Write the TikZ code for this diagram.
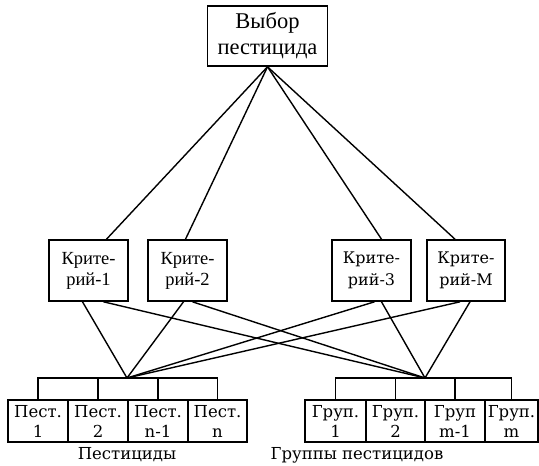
\documentclass[tikz,border=0pt]{standalone}
\usepackage{fontspec}
\setmainfont{Liberation Serif}
\newfontfamily\timesfont{Liberation Serif}
\newfontfamily\schfont{DejaVu Serif}
\usetikzlibrary{calc}

\begin{document}
\begin{tikzpicture}[x=1pt,y=-1pt]
\tikzstyle{box}=[draw, line width=1.6pt, rectangle, align=center, inner sep=0pt, minimum height=61pt]
\tikzstyle{item}=[draw, line width=1.4pt, rectangle, align=center, inner sep=0pt, minimum height=42pt, font=\schfont\fontsize{16.5}{20}\selectfont]
\tikzstyle{link}=[line width=1.4pt]
\useasboundingbox (0,0) rectangle (539,466);

% Goal
\node[box,minimum width=120pt,minimum height=60pt,font=\timesfont\fontsize{22.5}{26}\selectfont] (goal) at (267.5,36) {Выбор\\пестицида};

% Criteria
\node[box,minimum width=79pt,font=\timesfont\fontsize{18.5}{21}\selectfont] (crit1) at (88.5,270.5) {Крите-\\рий-1};
\node[box,minimum width=79pt,font=\timesfont\fontsize{18.5}{21}\selectfont] (crit2) at (187.5,270.5) {Крите-\\рий-2};
\node[box,minimum width=79pt,font=\schfont\fontsize{16}{22}\selectfont] (crit3) at (371.5,270.5) {Крите-\\рий-3};
\node[box,minimum width=78pt,font=\schfont\fontsize{16}{22}\selectfont] (critM) at (466,270.5) {Крите-\\рий-М};

% goal to criteria
\draw[link] (goal.south) -- ($(crit1.north)+(18,0)$);
\draw[link] (goal.south) -- ($(crit2.north)+(-2,0)$);
\draw[link] (goal.south) -- ($(crit3.north)+(10,0)$);
\draw[link] (goal.south) -- ($(critM.north)+(-11,0)$);

% Pesticides
\node[item,minimum width=60pt] (pest1) at (38,421) {Пест.\\1};
\node[item,minimum width=60pt] (pest2) at (98,421) {Пест.\\2};
\node[item,minimum width=60pt] (pest3) at (158,421) {Пест.\\n-1};
\node[item,minimum width=59pt] (pest4) at (217.5,421) {Пест.\\n};
\coordinate (pestjoin) at (127,378);
\draw[link] (pest1.north) |- (pestjoin) -| (pest4.north);
\draw[link] (pest2.north) -- (pest2.north |- pestjoin);
\draw[link] (pest3.north) -- (pest3.north |- pestjoin);
\node[font=\schfont\fontsize{16.5}{20}\selectfont] (pestlabel) at (127,455) {Пестициды};

% Groups
\node[item,minimum width=61pt] (grp1) at (335.5,421) {Груп.\\1};
\node[item,minimum width=59pt] (grp2) at (395.5,421) {Груп.\\2};
\node[item,minimum width=60pt] (grp3) at (455,421) {Груп\\m-1};
\node[item,minimum width=53pt] (grp4) at (511.5,421) {Груп.\\m};
\coordinate (grpjoin) at (425,378);
\draw[link] (grp1.north) |- (grpjoin) -| (grp4.north);
\draw[link] (grp2.north) -- (grp2.north |- grpjoin);
\draw[link] (grp3.north) -- (grp3.north |- grpjoin);
\node[font=\schfont\fontsize{16.5}{20}\selectfont] (grplabel) at (357,455) {Группы пестицидов};

% criteria to pesticides and groups
\draw[link] ($(crit1.south)+(-6,0)$) -- (pestjoin);
\draw[link] ($(crit1.south)+(15,0)$) -- (grpjoin);
\draw[link] ($(crit2.south)+(-4,0)$) -- (pestjoin);
\draw[link] ($(crit2.south)+(5,0)$) -- (grpjoin);
\draw[link] ($(crit3.south)+(3,0)$) -- (pestjoin);
\draw[link] ($(crit3.south)+(10,0)$) -- (grpjoin);
\draw[link] ($(critM.south)+(-6,0)$) -- (pestjoin);
\draw[link] ($(critM.south)+(4,0)$) -- (grpjoin);

\end{tikzpicture}
\end{document}
